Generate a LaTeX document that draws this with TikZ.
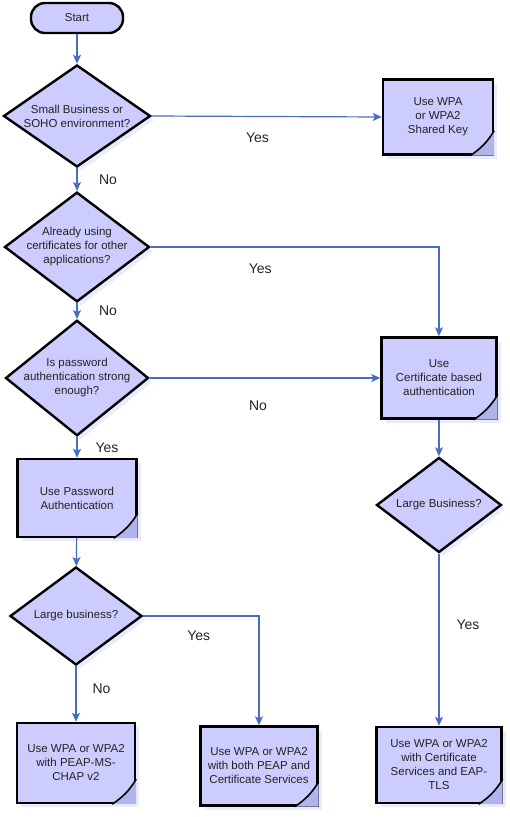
\documentclass[tikz,border=0pt]{standalone}
\usepackage{fontspec}
\setmainfont{Liberation Sans}
\usetikzlibrary{shapes.geometric,arrows.meta,calc,shadows}
\definecolor{wlanfill}{RGB}{204,204,255}
\definecolor{wlanfold}{RGB}{176,180,236}
\definecolor{wlanline}{RGB}{72,108,196}
\definecolor{wlanshadow}{RGB}{208,212,248}
\definecolor{wlantext}{RGB}{35,35,35}
\newcommand{\pagefold}[1]{%
  \fill[wlanfold] ($(#1.south east)+(-24,0)$) to[bend right=12] ($(#1.south east)+(0,-25)$) -- (#1.south east) -- cycle;
  \draw[line width=1.6pt] ($(#1.south east)+(-24,0)$) to[bend right=12] ($(#1.south east)+(0,-25)$);}

\begin{document}
\begin{tikzpicture}[x=1pt, y=-1pt, every node/.style={font=\fontsize{11.5}{14}\selectfont, text=wlantext}]
    \tikzstyle{block} = [rectangle, draw, fill=wlanfill, line width=2.4pt, align=center,
        inner sep=2pt, drop shadow={shadow xshift=4pt, shadow yshift=-4pt, fill=wlanshadow, opacity=0.45}]
    \tikzstyle{decision} = [diamond, draw, fill=wlanfill, line width=2.4pt, align=center,
        inner xsep=-10pt, inner ysep=-5pt, drop shadow={shadow xshift=4pt, shadow yshift=-4pt, fill=wlanshadow, opacity=0.45}]
    \tikzstyle{startstop} = [rectangle, draw, fill=wlanfill, line width=2.4pt, rounded corners=14pt,
        minimum width=92pt, minimum height=30pt]
    \tikzstyle{arrow} = [line width=1.2pt, color=wlanline, -{Stealth[length=9pt,width=8pt,inset=2pt]}]
    \tikzstyle{lbl} = [inner sep=0pt, font=\fontsize{14}{16}\selectfont]

    \useasboundingbox (0,0) rectangle (510,817);

    % left column
    \node [startstop] (start) at (77,18) {Start};
    \node [decision, minimum width=147pt, minimum height=102pt] (soho) at (77,116) {Small Business or\\SOHO environment?};
    \node [decision, minimum width=145pt, minimum height=106pt] (certs) at (77,247) {Already using\\certificates for other\\applications?};
    \node [decision, minimum width=143pt, minimum height=107pt] (strong) at (77,378) {Is password\\authentication strong\\enough?};
    \node [block, minimum width=119pt, minimum height=78pt] (pwauth) at (77,498) {Use Password\\Authentication};
    \node [decision, minimum width=132pt, minimum height=98pt] (pwlarge) at (76,616) {Large business?};
    \node [block, minimum width=118pt, minimum height=80pt] (peapms) at (76,763) {Use WPA or WPA2\\with PEAP-MS-\\CHAP v2};
    \node [block, minimum width=117pt, minimum height=79pt] (peapcert) at (259,766) {Use WPA or WPA2\\with both PEAP and\\Certificate Services};

    % right column
    \node [block, minimum width=110pt, minimum height=75pt] (shared) at (438,117) {Use WPA\\or WPA2\\Shared Key};
    \node [block, minimum width=115pt, minimum height=81pt] (certauth) at (439,378) {Use\\Certificate based\\authentication};
    \node [decision, minimum width=125pt, minimum height=95pt] (certlarge) at (439,505) {Large Business?};
    \node [block, minimum width=125pt, minimum height=76pt] (eaptls) at (439,765) {Use WPA or WPA2\\with Certificate\\Services and EAP-\\TLS};

    \pagefold{shared}
    \pagefold{certauth}
    \pagefold{pwauth}
    \pagefold{peapms}
    \pagefold{peapcert}
    \pagefold{eaptls}

    \draw [arrow] (start) -- (soho);
    \draw [arrow] (soho.east) -- node[lbl, pos=0.46, below=15.5pt] {Yes} (shared.west);
    \draw [arrow] (soho.south) -- node[lbl, midway, right=21.5pt] {No} (certs.north);
    \draw [arrow] (certs.east) -| node[lbl, pos=0.19, below=16.5pt] {Yes} (certauth.north);
    \draw [arrow] (certs.south) -- node[lbl, midway, right=21.5pt] {No} (strong.north);
    \draw [arrow] (strong.east) -- node[lbl, pos=0.47, below=22pt] {No} (certauth.west);
    \draw [arrow] (strong.south) -- node[lbl, midway, right=18pt] {Yes} (pwauth.north);
    \draw [arrow] (pwauth) -- (pwlarge);
    \draw [arrow] (pwlarge.east) -| node[lbl, pos=0.24, below=14.5pt] {Yes} (peapcert.north);
    \draw [arrow] (pwlarge.south) -- node[lbl, pos=0.4, right=16pt] {No} (peapms.north);
    \draw [arrow] (certauth) -- (certlarge);
    \draw [arrow] (certlarge.south) -- node[lbl, pos=0.41, right=17pt] {Yes} (eaptls.north);
\end{tikzpicture}
\end{document}
